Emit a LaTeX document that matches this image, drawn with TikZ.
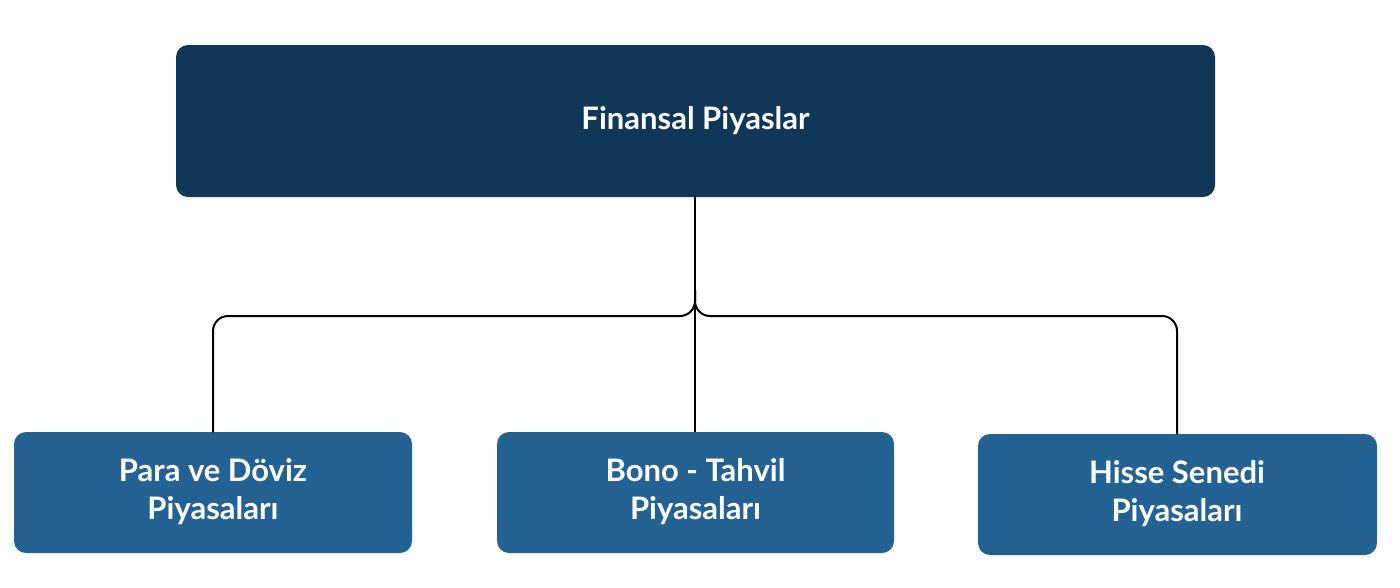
\documentclass[tikz,border=0pt]{standalone}
\usepackage{fontspec}
\setmainfont{Lato}
\begin{document}
\begin{tikzpicture}[x=1pt,y=-1pt,
  top/.style={fill={rgb,255:red,16;green,54;blue,88},rounded corners=12pt,draw=none},
  sub/.style={fill={rgb,255:red,35;green,98;blue,146},rounded corners=12pt,draw=none},
  lbl/.style={text=white,font=\bfseries\fontsize{31}{38}\selectfont,align=center},
  con/.style={line width=2pt,rounded corners=15pt}]
\useasboundingbox (0,0) rectangle (1400,587);
\fill[top] (176,45) rectangle (1215,197);
\node[lbl] (t) at (695.5,121) {Finansal Piyaslar};
\fill[sub] (14,432) rectangle (412,553);
\node[lbl] (a) at (213,492) {Para ve Döviz\\Piyasaları};
\fill[sub] (497,432) rectangle (894,553);
\node[lbl] (b) at (695.5,492) {Bono - Tahvil\\Piyasaları};
\fill[sub] (978,434) rectangle (1377,555);
\node[lbl] (c) at (1177,494) {Hisse Senedi\\Piyasaları};
\coordinate (tb) at (695,197);
\draw[con] (tb) -- (695,432);
\draw[con] (695,290) -- (695,316) -- (213,316) -- (213,432);
\draw[con] (695,290) -- (695,316) -- (1177,316) -- (1177,434);
\end{tikzpicture}
\end{document}
